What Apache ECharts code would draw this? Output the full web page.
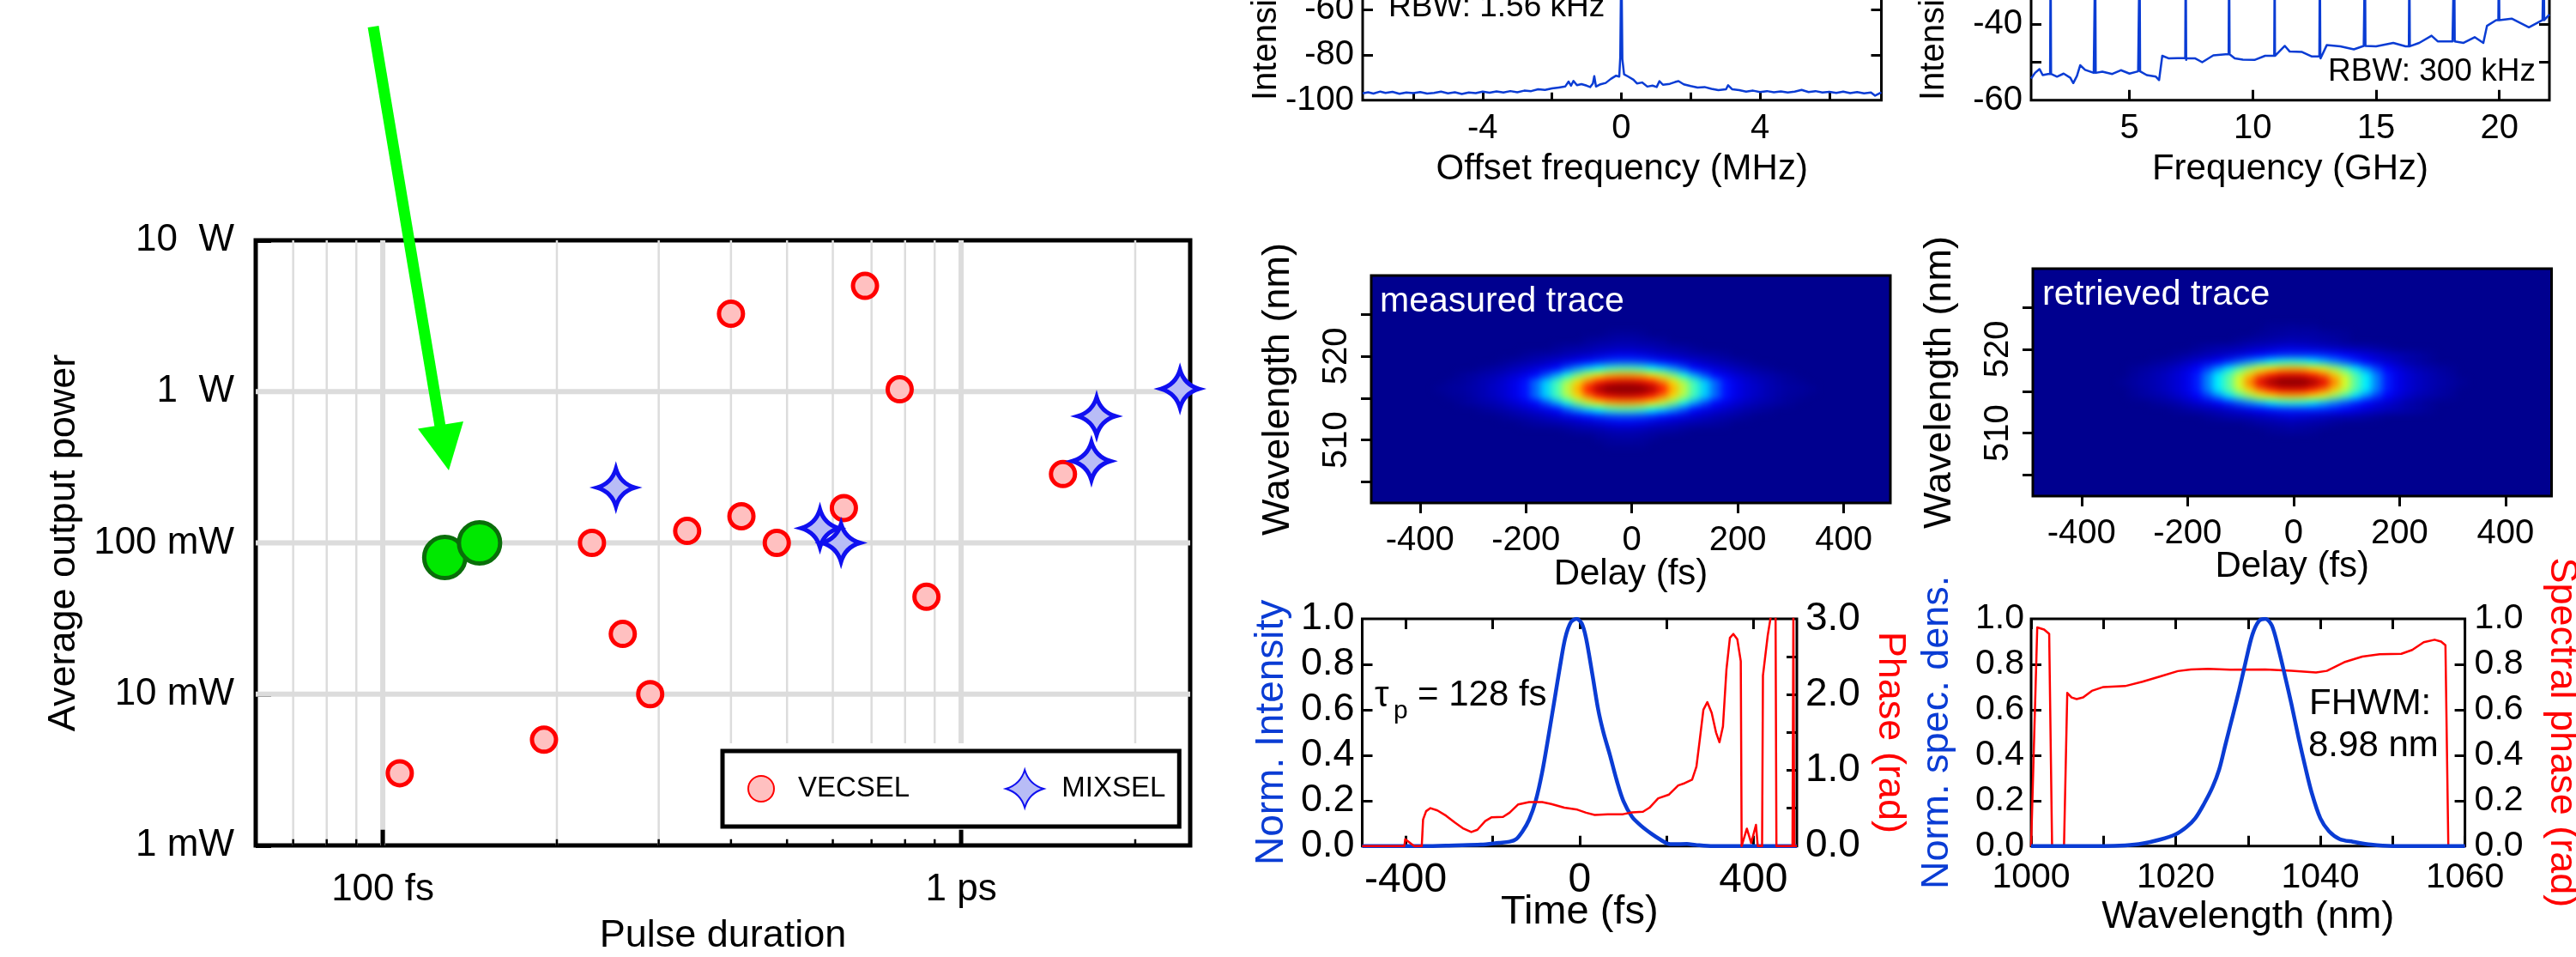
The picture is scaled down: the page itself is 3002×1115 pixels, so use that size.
<!DOCTYPE html>
<html>
<head>
<meta charset="utf-8">
<title>VECSEL pulse characterisation</title>
<style>
html,body{margin:0;background:#fff}
#chart{width:3002px;height:1115px}
/* the traces sit on their own canvas layer (zlevel 1), soften the cells like the original image */
#chart canvas + canvas{filter:blur(4px)}
</style>
<script src="https://cdn.jsdelivr.net/npm/echarts@6/dist/echarts.min.js"></script>
</head>
<body>
<div id="chart"></div>
<script>
// overview: [pulse fs, power mW]
const vecsel = [[107,3],[190,5],[290,10],[260,25],[230,100],[336,120],[417,150],[480,100],[627,170],[871,44],[400,3270],[682,5000],[783,1035],[1500,285]];
const mixsel = [[253,232],[570,125],[620,100],[1680,347],[1715,688],[2390,1043]];
const thisWork = [[128,80],[147,100]];
const minorFs = [70,80,90,200,300,400,500,600,700,800,900,2000];
const decadeFs = [100,1000];
const decadeMw = [1000,100,10];
const legendTopMw = 4.74;   // verticals stop above the legend box

// RF spectrum around the first harmonic: [MHz, dB]
const rfNarrow = [[-7.46,-97],[-7.3,-96.5],[-7.15,-97.1],[-6.95,-96.2],[-6.8,-96.8],[-6.6,-96.3],[-6.4,-97.2],[-6.2,-96.6],[-6,-96.9],[-5.8,-96.4],[-5.6,-97.1],[-5.4,-96.8],[-5.2,-96.2],[-5,-97],[-4.8,-96.5],[-4.6,-97.3],[-4.4,-96.6],[-4.2,-96.9],[-4,-96.2],[-3.8,-96.7],[-3.6,-96.1],[-3.4,-96.6],[-3.2,-96],[-3,-96.5],[-2.8,-95.8],[-2.6,-96],[-2.4,-95.2],[-2.2,-95.5],[-2,-94.8],[-1.8,-94.4],[-1.62,-94],[-1.52,-91.8],[-1.45,-93.6],[-1.38,-91.5],[-1.28,-93.4],[-1.15,-92.9],[-1,-93.6],[-0.9,-94.2],[-0.82,-92.6],[-0.78,-89.4],[-0.73,-94],[-0.6,-93],[-0.45,-92.4],[-0.3,-90.6],[-0.15,-89.2],[-0.06,-89.6],[-0.03,-81],[-0.01,-50],[0,-40],[0.01,-50],[0.03,-82],[0.08,-88.6],[0.2,-89.6],[0.35,-91],[0.45,-92.6],[0.6,-92.2],[0.75,-94],[0.9,-93.6],[1.02,-94.2],[1.1,-91.6],[1.2,-93.2],[1.4,-92.8],[1.55,-92],[1.65,-91.6],[1.8,-93],[2,-93.8],[2.2,-94.4],[2.4,-94.2],[2.6,-95],[2.8,-95.6],[3.02,-95.2],[3.08,-93.4],[3.2,-95.2],[3.4,-95.6],[3.6,-96.2],[3.8,-95.8],[4,-96.4],[4.2,-96],[4.4,-96.5],[4.6,-96.1],[4.8,-96.6],[5,-96.2],[5.2,-95.5],[5.4,-96.4],[5.6,-96],[5.8,-96.6],[6,-96.3],[6.2,-96.8],[6.4,-96.2],[6.6,-96.9],[6.8,-96.4],[7,-97],[7.2,-96.6],[7.32,-98],[7.5,-96.6]];
// RF comb, wide span: [GHz, dB]
const rfFloor = [[1.01,-54.3],[1.17,-52.8],[1.35,-51.8],[1.48,-53.4],[1.7,-53.1],[2.06,-53.8],[2.33,-53],[2.6,-54.1],[2.72,-55.5],[2.87,-53.6],[3,-50.8],[3.2,-52],[3.55,-52.8],[3.9,-52.5],[4.3,-53.1],[4.65,-52.1],[5,-53],[5.35,-52.4],[5.7,-53.4],[6.07,-53.8],[6.2,-54.7],[6.33,-48.3],[6.6,-49],[6.95,-48.9],[7.3,-49.4],[7.67,-49],[7.95,-50],[8.4,-48.2],[8.9,-47.9],[9.27,-49],[9.6,-49.3],[10.07,-49.4],[10.5,-48.3],[10.9,-47.3],[11.3,-45.7],[11.5,-47.2],[12,-47.3],[12.4,-48.5],[12.75,-49],[13,-45.5],[13.55,-45.8],[14.1,-46.6],[14.5,-45.7],[15,-45.8],[15.7,-44.9],[16.2,-45.8],[16.75,-44.9],[17.25,-43],[17.5,-44.5],[18.1,-44.5],[18.55,-44.9],[19,-43.4],[19.35,-44.9],[19.5,-40.4],[19.87,-38.9],[20.5,-38.5],[21.2,-40.8],[21.75,-38.9],[22.03,-37.4]];
const rfComb = [1.8,3.61,5.41,7.28,9.04,10.89,12.72,14.55,16.35,18.17,19.98,21.8];

// traces: each row is [row index, first delay column, values...]
const measuredRows = [
  [24,22,1,1.5,1.5,1],
  [23,20,1.5,2,2.5,3,3,2.5,2,1.5],
  [22,17,1,2,2.5,3,4,4.5,5,5,4.5,4,3,2.5,2,1],
  [21,14,1,2,2.5,3,4,5,6,7.5,9,10,10,9,7.5,6,5,4,3,2.5,2,1],
  [20,12,1,2,3,4,5.5,7,9,11,13.5,16,18,19,19,18,16,13.5,11,9,7,5.5,4,3,2,1],
  [19,10,1,2,3,4.5,6,8,10,13,20,27,33,38,43,45,45,43,38,33,27,20,13,10,8,6,4.5,3,2,1],
  [18,8,1,2,3,4,5.5,7.5,10,13,20,29,40,50,58,65,70,72,72,70,65,58,50,40,29,20,13,10,7.5,5.5,4,3,2,1],
  [17,7,1,1.5,2.5,4,5.5,7.5,10,14,23,33,44,55,66,76,85,90,92,92,90,85,76,66,55,44,33,23,14,10,7.5,5.5,4,2.5,1.5,1],
  [16,6,1,1.5,2,3,4,6,7.5,10,14,22,33,44,56,70,86,96,100,100,100,100,96,86,70,56,44,33,22,14,10,7.5,6,4,3,2,1.5,1],
  [15,7,1,1.5,2.5,4,5.5,7.5,10,14,23,33,44,55,66,76,85,90,92,92,90,85,76,66,55,44,33,23,14,10,7.5,5.5,4,2.5,1.5,1],
  [14,8,1,2,3,4,5.5,7.5,10,13,20,29,40,50,58,65,70,72,72,70,65,58,50,40,29,20,13,10,7.5,5.5,4,3,2,1],
  [13,10,1,2,3,4.5,6,8,10,13,20,27,33,38,43,45,45,43,38,33,27,20,13,10,8,6,4.5,3,2,1],
  [12,12,1,2,3,4,5.5,7,9,11,13.5,16,18,19,19,18,16,13.5,11,9,7,5.5,4,3,2,1],
  [11,14,1,2,2.5,3,4,5,6,7.5,9,10,10,9,7.5,6,5,4,3,2.5,2,1],
  [10,18,1,2,2.5,3,4,4.5,4.5,4,3,2.5,2,1],
  [9,21,1.5,2,2.5,2.5,2,1.5],
  [8,22,1,1,1,1]
];
const retrievedRows = [
  [24,22,1,1,1.5,1,1],
  [23,21,1,1.5,2,2.5,2.5,2.5,2,1.5,1],
  [22,19,1,2,2.5,3,3.5,4,3.5,3,2.5,2,1],
  [21,15,1,2,3,3.5,4,5,6,7,8,8.5,8,7,6,5,4,3.5,3,2,1],
  [20,13,1,2,3,4,5,6.5,8,10,12,14,15.5,16,16,16,15.5,14,12,10,8,6.5,5,4,3,2,1],
  [19,11,1,2,3,5,7,9,12,16,21,26,31,36,40,41,40,36,31,26,21,16,12,9,7,5,3,2,1],
  [18,9,1,2,3,4,6,8.5,12,18,26,35,45,53,60,65,69,70,69,65,60,53,45,35,26,18,12,8.5,6,4,3,2,1],
  [17,9,1.5,2.5,4,5.5,7.5,10,15,25,36,46,57,68,78,85,90,91,90,85,78,68,57,46,36,25,15,10,7.5,5.5,4,2.5,1.5],
  [16,8,1,2,3,4,5.5,7.5,10,15,25,36,46,59,75,90,97,100,100,100,97,90,75,59,46,36,25,15,10,7.5,5.5,4,3,2,1],
  [15,9,1.5,2.5,4,5.5,7.5,10,15,25,36,46,57,68,78,85,90,91,90,85,78,68,57,46,36,25,15,10,7.5,5.5,4,2.5,1.5],
  [14,9,1,2,3,4,6,8.5,12,18,26,35,45,53,60,65,69,70,69,65,60,53,45,35,26,18,12,8.5,6,4,3,2,1],
  [13,11,1,2,3,5,7,9,12,16,21,26,31,36,40,41,40,36,31,26,21,16,12,9,7,5,3,2,1],
  [12,13,1,2,3,4,5,6.5,8,10,12,14,15.5,16,16,16,15.5,14,12,10,8,6.5,5,4,3,2,1],
  [11,16,1,2,3,3.5,4,5,6,7,8,7,6,5,4,3.5,3,2,1],
  [10,20,1,2,2.5,3,3.5,3,2.5,2,1],
  [9,22,1,1.5,2,1.5,1]
];
const jet = ['#00008f','#0000ff','#007fff','#00ffff','#7fff7f','#ffff00','#ff7f00','#ff0000','#7f0000'];

// retrieved pulse: [fs, norm. intensity] and [fs, phase rad]
const pulseIntensity = [[-500,0],[-358,0],[-287,0.003],[-227,0.006],[-186,0.014],[-161,0.019],[-146,0.03],[-131,0.065],[-116,0.116],[-101,0.198],[-86,0.324],[-70,0.5],[-57,0.65],[-45,0.79],[-33,0.915],[-20,0.985],[-7,1],[5,0.98],[15,0.915],[30,0.75],[43,0.6],[55,0.5],[70,0.4],[86,0.286],[101,0.198],[121,0.128],[141,0.09],[166,0.053],[186,0.028],[202,0.011],[217,0.008],[247,0.009],[267,0.005],[307,0],[500,0]];
const pulsePhase = [[-500,0],[-403,0],[-401,0.09],[-385,0.02],[-380,0],[-363,0],[-360,0.35],[-353,0.46],[-343,0.5],[-327,0.47],[-307,0.4],[-287,0.31],[-267,0.23],[-249,0.185],[-235,0.215],[-217,0.33],[-202,0.38],[-176,0.385],[-161,0.44],[-141,0.55],[-116,0.58],[-86,0.58],[-65,0.555],[-35,0.506],[-5,0.48],[15,0.44],[35,0.41],[65,0.42],[100,0.42],[121,0.445],[146,0.453],[161,0.506],[181,0.63],[206,0.68],[227,0.8],[242,0.83],[259,0.876],[269,1.05],[277,1.42],[285,1.8],[294,1.9],[304,1.76],[314,1.5],[322,1.37],[330,1.58],[338,2.33],[346,2.75],[354,2.8],[363,2.73],[371,2.44],[373,0],[376,0],[385,0.23],[395,0.04],[406,0.28],[410,0],[420,0],[422,2.25],[433,2.78],[442,3.1],[451,3.1],[453,0],[490,0],[492,3.1],[494,0],[500,0]];

// retrieved spectrum: [nm, norm. density] and [nm, phase rad]
const spectrumDensity = [[1000,0],[1010,0],[1013,0.003],[1015.4,0.011],[1017.8,0.028],[1020,0.052],[1021.5,0.084],[1022.7,0.122],[1023.9,0.185],[1025.1,0.26],[1026,0.336],[1026.9,0.45],[1027.9,0.575],[1028.8,0.69],[1029.7,0.815],[1030.6,0.93],[1031.5,0.99],[1032.4,1],[1033.3,0.97],[1034.2,0.87],[1035.1,0.75],[1036,0.625],[1037,0.475],[1037.9,0.35],[1038.8,0.235],[1040,0.122],[1041.2,0.065],[1042.7,0.03],[1044.5,0.019],[1047,0.006],[1050,0],[1060,0]];
const spectrumPhase = [[1000,0],[1000.2,0],[1000.85,0.962],[1001.8,0.953],[1002.5,0.934],[1002.9,0],[1004.55,0],[1005,0.674],[1005.6,0.654],[1006.3,0.647],[1007.2,0.654],[1008.4,0.683],[1010,0.7],[1013,0.704],[1015.4,0.723],[1017.8,0.746],[1020.3,0.77],[1022.1,0.777],[1024.5,0.78],[1027.5,0.776],[1032.4,0.777],[1036,0.771],[1039.4,0.764],[1040.9,0.771],[1043.3,0.809],[1045.8,0.834],[1048.2,0.844],[1051.2,0.846],[1052.7,0.863],[1054.3,0.897],[1055.8,0.908],[1056.7,0.9],[1057.3,0.884],[1057.7,0],[1060,0]];

const FONT = 'Liberation Sans';
const BLUE = '#0a3cd4';
const RED = '#ff0000';
const starPath = 'path://M0,-22Q5,-5,22,0Q5,5,0,22Q-5,5,-22,0Q-5,-5,0,-22Z';
const dotPath = 'path://M-22,-22M22,22M15,0A15,15,0,1,1,-15,0A15,15,0,1,1,15,0Z';

function frame(left, top, width, height, extra) {
  return Object.assign({show: true, left, top, width, height, borderColor: '#000', borderWidth: 3, backgroundColor: 'transparent', outerBoundsMode: 'none', containLabel: false}, extra);
}

// value axis that stays on the frame; ticks and labels are explicit lists
function axis(o) {
  return {
    type: 'value', gridIndex: o.grid, position: o.pos, min: o.min, max: o.max, scale: true,
    axisLine: {show: false, onZero: false},
    splitLine: {show: false},
    axisTick: {show: !!o.ticks, inside: o.inside !== false, length: o.tickLen || 12, customValues: o.ticks, lineStyle: {color: '#000', width: 3}},
    axisLabel: {show: !!o.labels, customValues: o.labels, fontFamily: FONT, fontSize: o.size || 40, color: '#000', margin: o.margin || 10, rotate: o.rotate || 0, formatter: o.fmt || (v => String(v))},
    name: o.name, nameLocation: 'middle', nameGap: o.gap, nameRotate: o.nameRotate, nameMoveOverlap: false,
    nameTextStyle: {fontFamily: FONT, fontSize: o.nameSize || 42, color: o.nameColor || '#000'}
  };
}

function hiddenCategory(grid, pos, n) {
  return {type: 'category', gridIndex: grid, position: pos, show: false, boundaryGap: true, data: Array.from({length: n}, (_, i) => i)};
}

function trace(rows, xi, yi) {
  const data = [];
  rows.forEach(r => {
    for (let k = 2; k < r.length; k++) data.push([r[1] + k - 2, r[0], r[k]]);
  });
  return {type: 'heatmap', xAxisIndex: xi, yAxisIndex: yi, data, zlevel: 1, animation: false, silent: true, progressive: 0};
}

function curve(data, xi, yi, color, width, z, smooth) {
  return {type: 'line', xAxisIndex: xi, yAxisIndex: yi, data, symbol: 'none', smooth: smooth || false, z: z || 2, animation: false, silent: true,
    lineStyle: {color, width, join: 'round'}};
}

function guide(points, color, width) {
  return {type: 'line', xAxisIndex: 0, yAxisIndex: 0, data: points, symbol: 'none', silent: true, animation: false, z: 1, lineStyle: {color, width}};
}

function label(text, x, y, size, color, extra) {
  return Object.assign({type: 'text', x, y, z: 20, silent: true, style: {text, fill: color || '#000', font: size + 'px "' + FONT + '"', textVerticalAlign: 'middle'}}, extra);
}

const rfWide = rfFloor.slice();
rfComb.forEach(f => {
  let near = rfFloor[0][1];
  rfFloor.forEach(p => { if (p[0] <= f) near = p[1]; });
  rfWide.push([f - 0.02, near], [f, -20], [f + 0.02, near]);
});
rfWide.sort((a, b) => a[0] - b[0]);

const guides = [];
minorFs.forEach(x => {
  guides.push(guide([[x, 10000], [x, x > 350 ? legendTopMw : 1]], '#dcdcdc', 2.5));
  guides.push(guide([[x, 1], [x, 1.1]], '#000', 2.5));
});
decadeFs.forEach(x => {
  guides.push(guide([[x, 10000], [x, x > 350 ? legendTopMw : 1]], '#dcdcdc', 6));
  guides.push(guide([[x, 1], [x, 1.27]], '#000', 5));
});
decadeMw.forEach(y => guides.push(guide([[60.3, y], [2489, y]], '#dcdcdc', 6)));

const wideTicks = [-6, -4, -2, 0, 2, 4, 6];
const delayTicks = [-400, -200, 0, 200, 400];

const option = {
  animation: false,
  backgroundColor: '#fff',
  textStyle: {fontFamily: FONT},
  grid: [
    frame(298, 280, 1089, 705, {borderWidth: 5}),
    frame(1588, -41.7, 604.5, 158.4),
    frame(2367, -60.1, 604, 176.8),
    frame(1598, 321, 605, 265, {backgroundColor: '#00008f'}),
    frame(2369, 313, 604.5, 265, {backgroundColor: '#00008f'}),
    frame(1587.5, 721, 506.5, 264.7),
    frame(2367, 721, 505.6, 264.7)
  ],
  xAxis: [
    {
      type: 'log', gridIndex: 0, position: 'bottom', min: 60.3, max: 2489, logBase: 10,
      axisLine: {show: false, onZero: false}, axisTick: {show: false}, splitLine: {show: false}, minorTick: {show: false},
      axisLabel: {fontFamily: FONT, fontSize: 44, color: '#000', margin: 30, showMinLabel: false, showMaxLabel: false,
        formatter: v => Math.round(v) === 100 ? '100 fs' : Math.round(v) === 1000 ? '1 ps' : ''},
      name: 'Pulse duration', nameLocation: 'middle', nameGap: 83, nameMoveOverlap: false,
      nameTextStyle: {fontFamily: FONT, fontSize: 45, color: '#000'}
    },
    axis({grid: 1, pos: 'bottom', min: -7.46, max: 7.5, ticks: wideTicks, tickLen: 9, labels: [-4, 0, 4], margin: 13, name: 'Offset frequency (MHz)', gap: 60}),
    axis({grid: 2, pos: 'bottom', min: 1.01, max: 22.03, ticks: [5, 10, 15, 20], labels: [5, 10, 15, 20], margin: 13, name: 'Frequency (GHz)', gap: 60}),
    hiddenCategory(3, 'top', 49),
    axis({grid: 3, pos: 'bottom', min: -492, max: 488, ticks: delayTicks, labels: delayTicks, inside: false, margin: 24, name: 'Delay (fs)', gap: 62}),
    hiddenCategory(4, 'top', 49),
    axis({grid: 4, pos: 'bottom', min: -492, max: 487, ticks: delayTicks, labels: delayTicks, inside: false, margin: 24, name: 'Delay (fs)', gap: 61}),
    axis({grid: 5, pos: 'bottom', min: -500, max: 500, ticks: delayTicks, labels: [-400, 0, 400], size: 48, margin: 16, name: 'Time (fs)', nameSize: 47, gap: 54}),
    axis({grid: 5, pos: 'top', min: -500, max: 500, ticks: delayTicks}),
    axis({grid: 6, pos: 'bottom', min: 1000, max: 1060, ticks: [1000, 1010, 1020, 1030, 1040, 1050, 1060], labels: [1000, 1020, 1040, 1060], size: 41, margin: 16, name: 'Wavelength (nm)', nameSize: 45, gap: 60}),
    axis({grid: 6, pos: 'top', min: 1000, max: 1060, ticks: [1000, 1010, 1020, 1030, 1040, 1050, 1060]})
  ],
  yAxis: [
    {
      type: 'log', gridIndex: 0, position: 'left', min: 1, max: 10000, logBase: 10,
      axisLine: {show: false, onZero: false}, splitLine: {show: false}, minorTick: {show: false},
      axisTick: {show: true, inside: true, length: 18, lineStyle: {color: '#000', width: 5}},
      axisLabel: {fontFamily: FONT, fontSize: 44, color: '#000', margin: 25,
        formatter: v => ({1: '1 mW', 10: '10 mW', 100: '100 mW', 1000: '1  W', 10000: '10  W'})[Math.round(v)] || ''},
      name: 'Average output power', nameLocation: 'middle', nameGap: 201, nameMoveOverlap: false,
      nameTextStyle: {fontFamily: FONT, fontSize: 45, color: '#000'}
    },
    axis({grid: 1, pos: 'left', min: -100, max: -40, ticks: [-80, -60], labels: [-100, -80, -60]}),
    axis({grid: 1, pos: 'right', min: -100, max: -40, ticks: [-80, -60]}),
    axis({grid: 2, pos: 'left', min: -60, max: -20, ticks: [-50, -40], labels: [-60, -40]}),
    axis({grid: 2, pos: 'right', min: -60, max: -20, ticks: [-50, -40]}),
    hiddenCategory(3, 'right', 33),
    axis({grid: 3, pos: 'left', min: 502.5, max: 529.6, ticks: [505, 510, 515, 520, 525], labels: [510, 520], inside: false, rotate: 90, margin: 20, name: 'Wavelength (nm)', nameSize: 45, gap: 86}),
    hiddenCategory(4, 'right', 33),
    axis({grid: 4, pos: 'left', min: 502.5, max: 529.6, ticks: [505, 510, 515, 520, 525], labels: [510, 520], inside: false, rotate: 90, margin: 20, name: 'Wavelength (nm)', nameSize: 45, gap: 86}),
    axis({grid: 5, pos: 'left', min: 0, max: 1, ticks: [0.2, 0.4, 0.6, 0.8], labels: [0, 0.2, 0.4, 0.6, 0.8, 1], size: 45, margin: 9, fmt: v => v.toFixed(1), name: 'Norm. Intensity', nameSize: 46, nameColor: BLUE, gap: 82}),
    axis({grid: 5, pos: 'right', min: 0, max: 3, ticks: [0.5, 1, 1.5, 2, 2.5], labels: [0, 1, 2, 3], size: 46, margin: 10, fmt: v => v.toFixed(1), name: 'Phase (rad)', nameSize: 45, nameColor: RED, nameRotate: -90, gap: 86}),
    axis({grid: 6, pos: 'left', min: 0, max: 1, ticks: [0.2, 0.4, 0.6, 0.8], labels: [0, 0.2, 0.4, 0.6, 0.8, 1], size: 41, margin: 8, fmt: v => v.toFixed(1), name: 'Norm. spec. dens.', nameSize: 45, nameColor: BLUE, gap: 87}),
    axis({grid: 6, pos: 'right', min: 0, max: 1, ticks: [0.2, 0.4, 0.6, 0.8], labels: [0, 0.2, 0.4, 0.6, 0.8, 1], size: 41, margin: 11, fmt: v => v.toFixed(1), name: 'Spectral phase (rad)', nameSize: 45, nameColor: RED, nameRotate: -90, gap: 90})
  ],
  visualMap: [
    {show: false, type: 'continuous', seriesIndex: [guides.length + 3, guides.length + 4], dimension: 2, min: 0, max: 100, inRange: {color: jet}}
  ],
  legend: {
    left: 842, top: 875, orient: 'horizontal', padding: [21, 16, 21, 22], itemGap: 111,
    itemWidth: 76, itemHeight: 44, borderColor: '#000', borderWidth: 5, backgroundColor: '#fff', z: 10,
    selectedMode: false,
    textStyle: {fontFamily: FONT, fontSize: 33, color: '#000'},
    data: [{name: 'VECSEL', icon: dotPath}, {name: 'MIXSEL', icon: starPath}]
  },
  graphic: [
    {type: 'line', z: 15, silent: true, shape: {x1: 435, y1: 31, x2: 513, y2: 497}, style: {stroke: '#00ff00', lineWidth: 13}},
    {type: 'polygon', z: 15, silent: true, shape: {points: [[487, 499.5], [540, 491], [523, 548]]}, style: {fill: '#00ff00'}},
    label('Intensity (dB)', 1476, 117, 40, '#000', {rotation: Math.PI / 2}),
    label('Intensity (dB)', 2254, 117, 40, '#000', {rotation: Math.PI / 2}),
    label('RBW: 1.56 kHz', 1618, 9, 37),
    label('RBW: 300 kHz', 2713, 84, 37),
    label('measured trace', 1608, 352, 41, '#fff'),
    label('retrieved trace', 2380, 344, 41.5, '#fff'),
    label('τ', 1602, 811, 42),
    label('p', 1624, 829, 30),
    label('= 128 fs', 1652, 810, 42),
    label('FHWM:', 2691, 820, 42),
    label('8.98 nm', 2690, 869, 42)
  ],
  series: guides.concat([
    {name: 'VECSEL', type: 'scatter', xAxisIndex: 0, yAxisIndex: 0, data: vecsel, symbol: 'circle', symbolSize: 28, z: 3, animation: false,
      itemStyle: {color: '#ffc0c0', borderColor: RED, borderWidth: 5, opacity: 1}},
    {name: 'MIXSEL', type: 'scatter', xAxisIndex: 0, yAxisIndex: 0, data: mixsel, symbol: starPath, symbolSize: 44, z: 3, animation: false,
      itemStyle: {color: '#b8bcf6', borderColor: '#1010f0', borderWidth: 5, opacity: 1}},
    {name: 'this work', type: 'scatter', xAxisIndex: 0, yAxisIndex: 0, data: thisWork, symbol: 'circle', symbolSize: 48, z: 4, animation: false,
      itemStyle: {color: '#00e800', borderColor: '#0a6e0a', borderWidth: 5, opacity: 1}},
    trace(measuredRows, 3, 5),
    trace(retrievedRows, 5, 7),
    curve(rfNarrow, 1, 1, BLUE, 2.5),
    curve(rfWide, 2, 3, BLUE, 2.5),
    curve(pulseIntensity, 7, 9, BLUE, 4.5, 2, 0.3),
    curve(pulsePhase, 7, 10, RED, 2.5, 3),
    curve(spectrumPhase, 9, 12, RED, 2.5, 2),
    curve(spectrumDensity, 9, 11, BLUE, 4.5, 3, 0.3)
  ])
};

const chart = echarts.init(document.getElementById('chart'), null, {renderer: 'canvas'});
chart.setOption(option);
</script>
</body>
</html>
